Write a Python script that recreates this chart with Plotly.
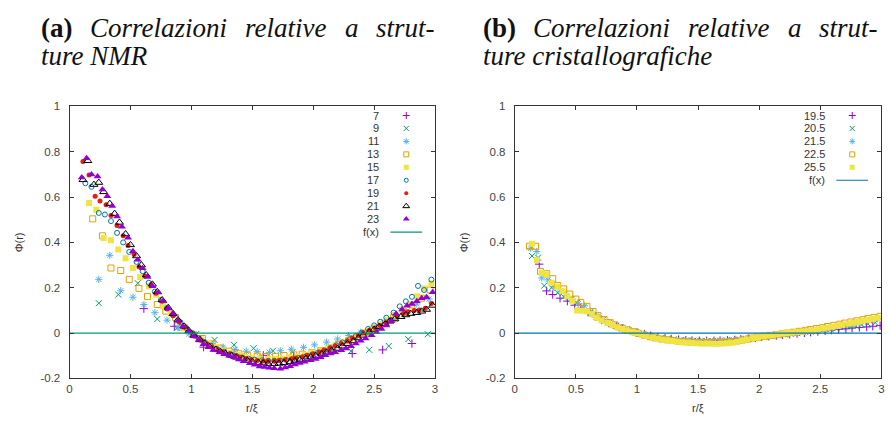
import plotly.graph_objects as go

W, H = 889, 423

# ---------------- (a) correlations, NMR structures ----------------
A_NAMES = ["7", "9", "11", "13", "15", "17", "19", "21", "23"]

A7_X = [0.61, 0.86, 1.10, 1.35, 1.59, 1.84, 2.08, 2.32, 2.57, 2.81]
A7_Y = [0.108, 0.030, -0.062, -0.088, -0.098, -0.100, -0.097, -0.090, -0.074, -0.046]

A9_X = [0.24, 0.40, 0.56, 0.72, 0.88, 1.04, 1.19, 1.35, 1.51, 1.67, 1.83, 1.99,
        2.15, 2.31, 2.46, 2.62, 2.78, 2.94]
A9_Y = [0.132, 0.170, 0.220, 0.062, 0.022, -0.004, -0.030, -0.052, -0.067, -0.078,
        -0.084, -0.086, -0.084, -0.080, -0.074, -0.057, -0.027, -0.005]

A11_X = [0.24, 0.33, 0.42, 0.52, 0.61, 0.70, 0.80, 0.89, 0.98, 1.08, 1.17, 1.26,
         1.36, 1.45, 1.54, 1.64, 1.73, 1.82, 1.92, 2.01, 2.11, 2.20, 2.29, 2.39,
         2.48, 2.57, 2.67, 2.76, 2.85, 2.95]
A11_Y = [0.237, 0.343, 0.187, 0.158, 0.126, 0.090, 0.057, 0.024, -0.004, -0.028,
         -0.047, -0.062, -0.072, -0.080, -0.082, -0.085, -0.078, -0.071, -0.063,
         -0.052, -0.040, -0.026, -0.011, 0.004, 0.019, 0.040, 0.062, 0.092, 0.128,
         0.150]

A13_X = [0.19, 0.27, 0.34, 0.42, 0.49, 0.57, 0.64, 0.72, 0.79, 0.87, 0.94, 1.02,
         1.09, 1.17, 1.24, 1.31, 1.39, 1.46, 1.54, 1.61, 1.69, 1.76, 1.84, 1.91,
         1.99, 2.06, 2.14, 2.21, 2.29, 2.36, 2.44, 2.51, 2.59, 2.66, 2.74, 2.81,
         2.89, 2.96]
A13_Y = [0.504, 0.429, 0.287, 0.276, 0.237, 0.197, 0.161, 0.126, 0.097, 0.069,
         0.026, -0.008, -0.024, -0.048, -0.066, -0.080, -0.091, -0.098, -0.101,
         -0.103, -0.103, -0.099, -0.096, -0.093, -0.087, -0.078, -0.066, -0.050,
         -0.034, -0.016, 0.002, 0.022, 0.044, 0.068, 0.094, 0.124, 0.154, 0.190]

A15_X = [0.16, 0.22, 0.28, 0.34, 0.40, 0.46, 0.52, 0.58, 0.65, 0.71, 0.77, 0.83,
         0.89, 0.95, 1.01, 1.08, 1.14, 1.20, 1.26, 1.32, 1.38, 1.44, 1.50, 1.56,
         1.63, 1.69, 1.75, 1.81, 1.87, 1.93, 1.99, 2.06, 2.12, 2.18, 2.24, 2.30,
         2.36, 2.42, 2.48, 2.55, 2.61, 2.67, 2.73, 2.79, 2.85, 2.91, 2.97]
A15_Y = [0.574, 0.544, 0.419, 0.409, 0.369, 0.330, 0.287, 0.247, 0.207, 0.169,
         0.119, 0.086, 0.051, 0.020, -0.006, -0.028, -0.047, -0.063, -0.077,
         -0.088, -0.097, -0.104, -0.109, -0.112, -0.114, -0.114, -0.112, -0.108,
         -0.103, -0.096, -0.088, -0.078, -0.067, -0.054, -0.040, -0.026, -0.012,
         0.004, 0.020, 0.038, 0.058, 0.080, 0.104, 0.128, 0.162, 0.197, 0.219]

A17_X = [0.13, 0.18, 0.24, 0.29, 0.34, 0.39, 0.44, 0.49, 0.55, 0.60, 0.65, 0.70,
         0.75, 0.80, 0.85, 0.91, 0.96, 1.01, 1.06, 1.11, 1.16, 1.21, 1.27, 1.32,
         1.37, 1.42, 1.47, 1.52, 1.58, 1.63, 1.68, 1.73, 1.78, 1.83, 1.88, 1.94,
         1.99, 2.04, 2.09, 2.14, 2.19, 2.24, 2.30, 2.35, 2.40, 2.45, 2.50, 2.55,
         2.60, 2.66, 2.71, 2.76, 2.81, 2.86, 2.91, 2.97]
A17_Y = [0.661, 0.645, 0.530, 0.523, 0.494, 0.442, 0.400, 0.358, 0.314, 0.273,
         0.222, 0.183, 0.146, 0.110, 0.078, 0.048, 0.022, 0.000, -0.022, -0.040,
         -0.056, -0.070, -0.082, -0.092, -0.101, -0.108, -0.113, -0.117, -0.120,
         -0.122, -0.122, -0.121, -0.119, -0.115, -0.110, -0.103, -0.095, -0.086,
         -0.077, -0.066, -0.054, -0.041, -0.027, -0.013, 0.002, 0.018, 0.034,
         0.050, 0.068, 0.090, 0.118, 0.140, 0.160, 0.208, 0.190, 0.236]

A19_X = [0.11, 0.16, 0.21, 0.25, 0.30, 0.34, 0.39, 0.44, 0.48, 0.53, 0.57, 0.62,
         0.67, 0.71, 0.76, 0.80, 0.85, 0.90, 0.94, 0.99, 1.03, 1.08, 1.13, 1.17,
         1.22, 1.26, 1.31, 1.36, 1.40, 1.45, 1.49, 1.54, 1.59, 1.63, 1.68, 1.72,
         1.77, 1.82, 1.86, 1.91, 1.95, 2.00, 2.05, 2.09, 2.14, 2.18, 2.23, 2.28,
         2.32, 2.37, 2.41, 2.46, 2.51, 2.55, 2.60, 2.64, 2.69, 2.74, 2.78, 2.83,
         2.87, 2.92, 2.97]
A19_Y = [0.757, 0.697, 0.604, 0.583, 0.566, 0.519, 0.474, 0.429, 0.386, 0.347,
         0.293, 0.252, 0.214, 0.176, 0.140, 0.106, 0.078, 0.050, 0.026, 0.006,
         -0.014, -0.032, -0.048, -0.062, -0.073, -0.083, -0.092, -0.100, -0.106,
         -0.112, -0.117, -0.121, -0.123, -0.124, -0.123, -0.121, -0.118, -0.114,
         -0.110, -0.104, -0.098, -0.091, -0.083, -0.075, -0.066, -0.056, -0.046,
         -0.034, -0.022, -0.010, 0.002, 0.012, 0.022, 0.034, 0.046, 0.060, 0.074,
         0.086, 0.094, 0.100, 0.102, 0.110, 0.130]

A21_X = [0.11, 0.15, 0.20, 0.24, 0.28, 0.33, 0.37, 0.41, 0.46, 0.50, 0.55, 0.59,
         0.63, 0.68, 0.72, 0.76, 0.81, 0.85, 0.89, 0.94, 0.98, 1.02, 1.07, 1.11,
         1.15, 1.20, 1.24, 1.28, 1.33, 1.37, 1.42, 1.46, 1.50, 1.55, 1.59, 1.63,
         1.68, 1.72, 1.76, 1.81, 1.85, 1.89, 1.94, 1.98, 2.02, 2.07, 2.11, 2.15,
         2.20, 2.24, 2.28, 2.33, 2.37, 2.41, 2.46, 2.50, 2.54, 2.59, 2.63, 2.67,
         2.72, 2.76, 2.80, 2.85, 2.89, 2.93, 2.98]
A21_Y = [0.676, 0.760, 0.655, 0.664, 0.623, 0.571, 0.527, 0.488, 0.437, 0.389,
         0.340, 0.300, 0.256, 0.215, 0.182, 0.146, 0.112, 0.085, 0.058, 0.030,
         0.010, -0.010, -0.030, -0.046, -0.060, -0.072, -0.083, -0.091, -0.099,
         -0.107, -0.114, -0.121, -0.126, -0.130, -0.133, -0.135, -0.135, -0.134,
         -0.131, -0.127, -0.123, -0.118, -0.112, -0.106, -0.099, -0.092, -0.085,
         -0.077, -0.068, -0.058, -0.047, -0.035, -0.022, -0.010, 0.004, 0.016,
         0.028, 0.040, 0.052, 0.062, 0.072, 0.080, 0.086, 0.090, 0.096, 0.104,
         0.122]

A23_X = [0.10, 0.14, 0.18, 0.23, 0.27, 0.31, 0.35, 0.39, 0.43, 0.48, 0.52, 0.56,
         0.60, 0.64, 0.68, 0.73, 0.77, 0.81, 0.85, 0.89, 0.93, 0.98, 1.02, 1.06,
         1.10, 1.14, 1.18, 1.23, 1.27, 1.31, 1.35, 1.39, 1.43, 1.48, 1.52, 1.56,
         1.60, 1.64, 1.68, 1.73, 1.77, 1.81, 1.85, 1.89, 1.93, 1.98, 2.02, 2.06,
         2.10, 2.14, 2.18, 2.23, 2.27, 2.31, 2.35, 2.39, 2.43, 2.48, 2.52, 2.56,
         2.60, 2.64, 2.68, 2.73, 2.77, 2.81, 2.85, 2.89, 2.93, 2.98]
A23_Y = [0.686, 0.771, 0.700, 0.691, 0.633, 0.604, 0.561, 0.514, 0.469, 0.421,
         0.361, 0.323, 0.286, 0.247, 0.207, 0.179, 0.140, 0.108, 0.086, 0.054,
         0.029, 0.009, -0.014, -0.031, -0.049, -0.062, -0.075, -0.085, -0.093,
         -0.100, -0.107, -0.116, -0.124, -0.133, -0.140, -0.147, -0.150, -0.153,
         -0.155, -0.157, -0.152, -0.146, -0.139, -0.132, -0.126, -0.120, -0.114,
         -0.107, -0.098, -0.090, -0.084, -0.076, -0.068, -0.058, -0.046, -0.034,
         -0.024, -0.010, 0.004, 0.018, 0.034, 0.052, 0.085, 0.104, 0.121, 0.128,
         0.140, 0.154, 0.158, 0.180]

A_SERIES = [(A7_X, A7_Y), (A9_X, A9_Y), (A11_X, A11_Y), (A13_X, A13_Y),
            (A15_X, A15_Y), (A17_X, A17_Y), (A19_X, A19_Y), (A21_X, A21_Y),
            (A23_X, A23_Y)]

# ---------------- (b) correlations, crystallographic structures ----------------
B_NAMES = ["19.5", "20.5", "21.5", "22.5", "25.5"]

B195_X = [0.20, 0.26, 0.31, 0.37, 0.43, 0.49, 0.54, 0.60, 0.66, 0.71, 0.77, 0.83,
          0.88, 0.94, 1.00, 1.06, 1.11, 1.17, 1.23, 1.28, 1.34, 1.40, 1.45, 1.51,
          1.57, 1.63, 1.68, 1.74, 1.80, 1.85, 1.91, 1.97, 2.02, 2.08, 2.14, 2.19,
          2.25, 2.31, 2.37, 2.42, 2.48, 2.54, 2.59, 2.65, 2.71, 2.76, 2.82, 2.88,
          2.93, 2.99]
B195_Y = [0.304, 0.186, 0.170, 0.154, 0.141, 0.123, 0.110, 0.092, 0.072, 0.058,
          0.044, 0.031, 0.021, 0.012, 0.003, -0.005, -0.012, -0.018, -0.023,
          -0.026, -0.029, -0.031, -0.033, -0.034, -0.034, -0.034, -0.033, -0.032,
          -0.030, -0.027, -0.024, -0.021, -0.017, -0.014, -0.011, -0.008, -0.005,
          -0.002, 0.001, 0.004, 0.007, 0.010, 0.013, 0.016, 0.019, 0.022, 0.025,
          0.027, 0.030, 0.033]

B205_X = [0.14, 0.19, 0.24, 0.30, 0.35, 0.40, 0.46, 0.51, 0.56, 0.62, 0.67, 0.72,
          0.77, 0.83, 0.88, 0.93, 0.99, 1.04, 1.09, 1.15, 1.20, 1.25, 1.30, 1.36,
          1.41, 1.46, 1.52, 1.57, 1.62, 1.68, 1.73, 1.78, 1.83, 1.89, 1.94, 1.99,
          2.05, 2.10, 2.15, 2.21, 2.26, 2.31, 2.36, 2.42, 2.47, 2.52, 2.58, 2.63,
          2.68, 2.74, 2.79, 2.84, 2.89, 2.95]
B205_Y = [0.340, 0.333, 0.209, 0.200, 0.178, 0.160, 0.150, 0.133, 0.112, 0.090,
          0.072, 0.058, 0.045, 0.032, 0.021, 0.012, 0.004, -0.004, -0.010, -0.016,
          -0.021, -0.025, -0.028, -0.031, -0.033, -0.034, -0.035, -0.035, -0.035,
          -0.034, -0.033, -0.031, -0.029, -0.026, -0.023, -0.019, -0.015, -0.012,
          -0.009, -0.006, -0.003, 0.000, 0.003, 0.006, 0.009, 0.012, 0.016, 0.020,
          0.024, 0.028, 0.032, 0.037, 0.041, 0.046]

B215_X = [0.13, 0.18, 0.22, 0.27, 0.32, 0.37, 0.42, 0.47, 0.52, 0.57, 0.62, 0.67,
          0.72, 0.77, 0.82, 0.87, 0.92, 0.97, 1.02, 1.07, 1.12, 1.17, 1.22, 1.27,
          1.32, 1.37, 1.42, 1.47, 1.52, 1.57, 1.62, 1.67, 1.72, 1.77, 1.82, 1.87,
          1.92, 1.97, 2.02, 2.07, 2.12, 2.17, 2.22, 2.27, 2.32, 2.37, 2.42, 2.47,
          2.52, 2.57, 2.62, 2.67, 2.72, 2.77, 2.82, 2.87, 2.92, 2.97]
B215_Y = [0.374, 0.360, 0.243, 0.235, 0.205, 0.185, 0.165, 0.150, 0.130, 0.120,
          0.096, 0.076, 0.058, 0.044, 0.032, 0.022, 0.013, 0.005, -0.002, -0.009,
          -0.015, -0.020, -0.024, -0.028, -0.031, -0.033, -0.035, -0.036, -0.037,
          -0.037, -0.037, -0.036, -0.035, -0.033, -0.030, -0.027, -0.023, -0.019,
          -0.015, -0.011, -0.008, -0.005, -0.002, 0.001, 0.004, 0.007, 0.010,
          0.014, 0.018, 0.022, 0.026, 0.031, 0.036, 0.041, 0.046, 0.052, 0.058,
          0.064]

B225_X = [0.12, 0.17, 0.21, 0.26, 0.31, 0.35, 0.40, 0.45, 0.50, 0.54, 0.59, 0.64,
          0.68, 0.73, 0.78, 0.82, 0.87, 0.92, 0.97, 1.01, 1.06, 1.11, 1.15, 1.20,
          1.25, 1.29, 1.34, 1.39, 1.44, 1.48, 1.53, 1.58, 1.62, 1.67, 1.72, 1.76,
          1.81, 1.86, 1.91, 1.95, 2.00, 2.05, 2.09, 2.14, 2.19, 2.23, 2.28, 2.33,
          2.38, 2.42, 2.47, 2.52, 2.56, 2.61, 2.66, 2.70, 2.75, 2.80, 2.85, 2.89,
          2.94, 2.99]
B225_Y = [0.383, 0.383, 0.272, 0.262, 0.240, 0.210, 0.195, 0.172, 0.150, 0.135,
          0.118, 0.095, 0.078, 0.060, 0.046, 0.036, 0.024, 0.014, 0.006, -0.001,
          -0.009, -0.016, -0.021, -0.026, -0.030, -0.033, -0.036, -0.038, -0.040,
          -0.041, -0.042, -0.042, -0.042, -0.041, -0.040, -0.038, -0.035, -0.031,
          -0.026, -0.022, -0.018, -0.014, -0.010, -0.007, -0.003, 0.000, 0.004,
          0.008, 0.012, 0.016, 0.020, 0.024, 0.029, 0.034, 0.039, 0.044, 0.049,
          0.054, 0.059, 0.064, 0.069, 0.074]

B255_X = [0.14, 0.18, 0.22, 0.26, 0.30, 0.35, 0.39, 0.43, 0.47, 0.51, 0.55, 0.59,
          0.63, 0.67, 0.71, 0.76, 0.80, 0.84, 0.88, 0.92, 0.96, 1.00, 1.04, 1.08,
          1.13, 1.17, 1.21, 1.25, 1.29, 1.33, 1.37, 1.41, 1.45, 1.49, 1.54, 1.58,
          1.62, 1.66, 1.70, 1.74, 1.78, 1.82, 1.86, 1.90, 1.95, 1.99, 2.03, 2.07,
          2.11, 2.15, 2.19, 2.23, 2.27, 2.32, 2.36, 2.40, 2.44, 2.48, 2.52, 2.56,
          2.60, 2.64, 2.68, 2.73, 2.77, 2.81, 2.85, 2.89, 2.93, 2.97]
B255_Y = [0.394, 0.322, 0.266, 0.258, 0.222, 0.204, 0.185, 0.163, 0.143, 0.100,
          0.099, 0.096, 0.084, 0.068, 0.056, 0.044, 0.036, 0.026, 0.018, 0.011,
          0.005, 0.000, -0.007, -0.013, -0.019, -0.025, -0.029, -0.032, -0.035,
          -0.038, -0.040, -0.042, -0.044, -0.045, -0.046, -0.046, -0.047, -0.047,
          -0.046, -0.045, -0.043, -0.039, -0.033, -0.028, -0.022, -0.018, -0.014,
          -0.011, -0.008, -0.005, -0.002, 0.000, 0.003, 0.005, 0.007, 0.010,
          0.013, 0.016, 0.020, 0.024, 0.028, 0.032, 0.037, 0.042, 0.046, 0.050,
          0.054, 0.058, 0.063, 0.068]

B_SERIES = [(B195_X, B195_Y), (B205_X, B205_Y), (B215_X, B215_Y),
            (B225_X, B225_Y), (B255_X, B255_Y)]

# f(x) = 0 reference line drawn in both panels
FX_X = [0.0, 3.0]
FX_Y = [0.0, 0.0]

X_TICKS = [0, 0.5, 1, 1.5, 2, 2.5, 3]
X_TICK_TEXT = ["0", "0.5", "1", "1.5", "2", "2.5", "3"]
Y_TICKS = [-0.2, 0, 0.2, 0.4, 0.6, 0.8, 1]
Y_TICK_TEXT = ["-0.2", "0", "0.2", "0.4", "0.6", "0.8", "1"]

# gnuplot default line types: colour and point type for each index
PALETTE = ["#9400D3", "#009E73", "#56B4E9", "#E69F00", "#F0E442",
           "#0072B2", "#E51E10", "#000000", "#9400D3"]
SYMBOLS = ["cross-thin-open", "x-thin-open", "asterisk-open", "square-open",
           "square", "circle-open", "circle", "triangle-up-open", "triangle-up"]
SIZES = [6, 6, 6, 6, 6, 5, 5, 7, 7]
FILLED = [False, False, False, False, True, False, True, False, True]

SANS = "Liberation Sans, Arial, sans-serif"
SERIF = "Liberation Serif, Times New Roman, serif"
TICK_COLOR = "#444444"


def px(x):
    return x / W


def py(y):
    return 1 - y / H


def marker(i, size=None):
    m = dict(symbol=SYMBOLS[i], color=PALETTE[i], size=size or SIZES[i])
    m["line"] = dict(width=0 if FILLED[i] else 1, color=PALETTE[i])
    return m


fig = go.Figure()

# data series
for i, (xs, ys) in enumerate(A_SERIES):
    fig.add_trace(go.Scatter(x=xs, y=ys, mode="markers", marker=marker(i),
                             xaxis="x", yaxis="y", showlegend=False,
                             name=A_NAMES[i]))
fig.add_trace(go.Scatter(x=FX_X, y=FX_Y, mode="lines",
                         line=dict(color=PALETTE[1], width=1.2),
                         xaxis="x", yaxis="y", showlegend=False, name="f(x)"))

for i, (xs, ys) in enumerate(B_SERIES):
    fig.add_trace(go.Scatter(x=xs, y=ys, mode="markers", marker=marker(i),
                             xaxis="x2", yaxis="y2", showlegend=False,
                             name=B_NAMES[i]))
fig.add_trace(go.Scatter(x=FX_X, y=FX_Y, mode="lines",
                         line=dict(color=PALETTE[5], width=1.2),
                         xaxis="x2", yaxis="y2", showlegend=False, name="f(x)"))

# gnuplot-style keys: label right-aligned, sample to its right
ROW0, ROW_STEP = 112.7, 13.33
annotations = []
shapes = []


def add_key(names, fx_color, label_right, sample_x, line_x0, line_x1):
    for i, name in enumerate(names):
        yk = ROW0 + ROW_STEP * i
        fig.add_trace(go.Scatter(x=[sample_x], y=[yk], mode="markers",
                                 marker=marker(i, size=SIZES[i] - 1),
                                 xaxis="x3", yaxis="y3", showlegend=False,
                                 hoverinfo="skip", cliponaxis=False))
        annotations.append(dict(x=px(label_right), y=py(yk), xref="paper",
                                yref="paper", text=name, showarrow=False,
                                xanchor="right", yanchor="middle",
                                font=dict(family=SANS, size=11, color="#333")))
    yk = ROW0 + ROW_STEP * len(names)
    annotations.append(dict(x=px(label_right), y=py(yk), xref="paper",
                            yref="paper", text="f(x)", showarrow=False,
                            xanchor="right", yanchor="middle",
                            font=dict(family=SANS, size=11, color="#333")))
    shapes.append(dict(type="line", xref="paper", yref="paper",
                       x0=px(line_x0), x1=px(line_x1), y0=py(yk), y1=py(yk),
                       line=dict(color=fx_color, width=1.2)))


add_key(A_NAMES, PALETTE[1], 381, 406, 390, 422)
add_key(B_NAMES, PALETTE[5], 830, 855, 839, 871)

# panel titles; the first line is justified, so its words are set one by one
TITLE_FONT = dict(family=SERIF, size=27, color="#111")
TITLE_A1 = ["<b>(a)</b>", "<i>Correlazioni</i>", "<i>relative</i>", "<i>a</i>",
            "<i>strut-</i>"]
TITLE_B1 = ["<b>(b)</b>", "<i>Correlazioni</i>", "<i>relative</i>", "<i>a</i>",
            "<i>strut-</i>"]
WORD_X_A = [36, 85.5, 241.5, 342, 373.5]
WORD_X_B = [481, 532, 688, 788, 819.5]
for words, xs in ((TITLE_A1, WORD_X_A), (TITLE_B1, WORD_X_B)):
    for w, x0 in zip(words, xs):
        annotations.append(dict(x=px(x0), y=py(23), xref="paper", yref="paper",
                                text=w, showarrow=False, xanchor="left",
                                yanchor="middle", font=TITLE_FONT))
annotations.append(dict(x=px(36), y=py(51), xref="paper", yref="paper",
                        text="<i>ture NMR</i>", showarrow=False,
                        xanchor="left", yanchor="middle", font=TITLE_FONT))
annotations.append(dict(x=px(481), y=py(51), xref="paper", yref="paper",
                        text="<i>ture cristallografiche</i>", showarrow=False,
                        xanchor="left", yanchor="middle", font=TITLE_FONT))

# axis titles
AX_FONT = dict(family=SANS, size=11, color="#333")
for xc in (17, 465):
    annotations.append(dict(x=px(xc), y=py(243.3), xref="paper", yref="paper",
                            text="Φ(r)", textangle=-90, showarrow=False,
                            xanchor="center", yanchor="middle", font=AX_FONT))
for xc in (251, 700):
    annotations.append(dict(x=px(xc), y=py(414), xref="paper", yref="paper",
                            text="r/ξ", showarrow=False,
                            xanchor="center", yanchor="middle", font=AX_FONT))

Y_DOM = [py(383.3), py(103.3)]
axis_common = dict(showgrid=False, zeroline=False, showline=True,
                   linecolor="#333", linewidth=1, mirror="ticks",
                   ticks="inside", ticklen=4, tickcolor="#333", tickwidth=1,
                   tickfont=dict(family=SANS, size=11.5, color=TICK_COLOR))
xa = dict(axis_common, range=[0, 3], tickvals=X_TICKS, ticktext=X_TICK_TEXT)
ya = dict(axis_common, range=[-0.2, 1], tickvals=Y_TICKS, ticktext=Y_TICK_TEXT,
          domain=Y_DOM, ticklabelstandoff=6)

fig.update_layout(
    width=W, height=H,
    margin=dict(l=0, r=0, t=0, b=0),
    paper_bgcolor="white", plot_bgcolor="rgba(0,0,0,0)",
    showlegend=False,
    xaxis=dict(xa, domain=[px(67), px(435)], anchor="y"),
    yaxis=dict(ya, anchor="x"),
    xaxis2=dict(xa, domain=[px(515.3), px(884.3)], anchor="y2"),
    yaxis2=dict(ya, anchor="x2"),
    # page-pixel frame used only for placing the key samples
    xaxis3=dict(domain=[0, 1], range=[0, W], visible=False, anchor="y3",
                fixedrange=True),
    yaxis3=dict(domain=[0, 1], range=[H, 0], visible=False, anchor="x3",
                fixedrange=True),
    annotations=annotations,
    shapes=shapes,
)

fig.write_html("out.html")
